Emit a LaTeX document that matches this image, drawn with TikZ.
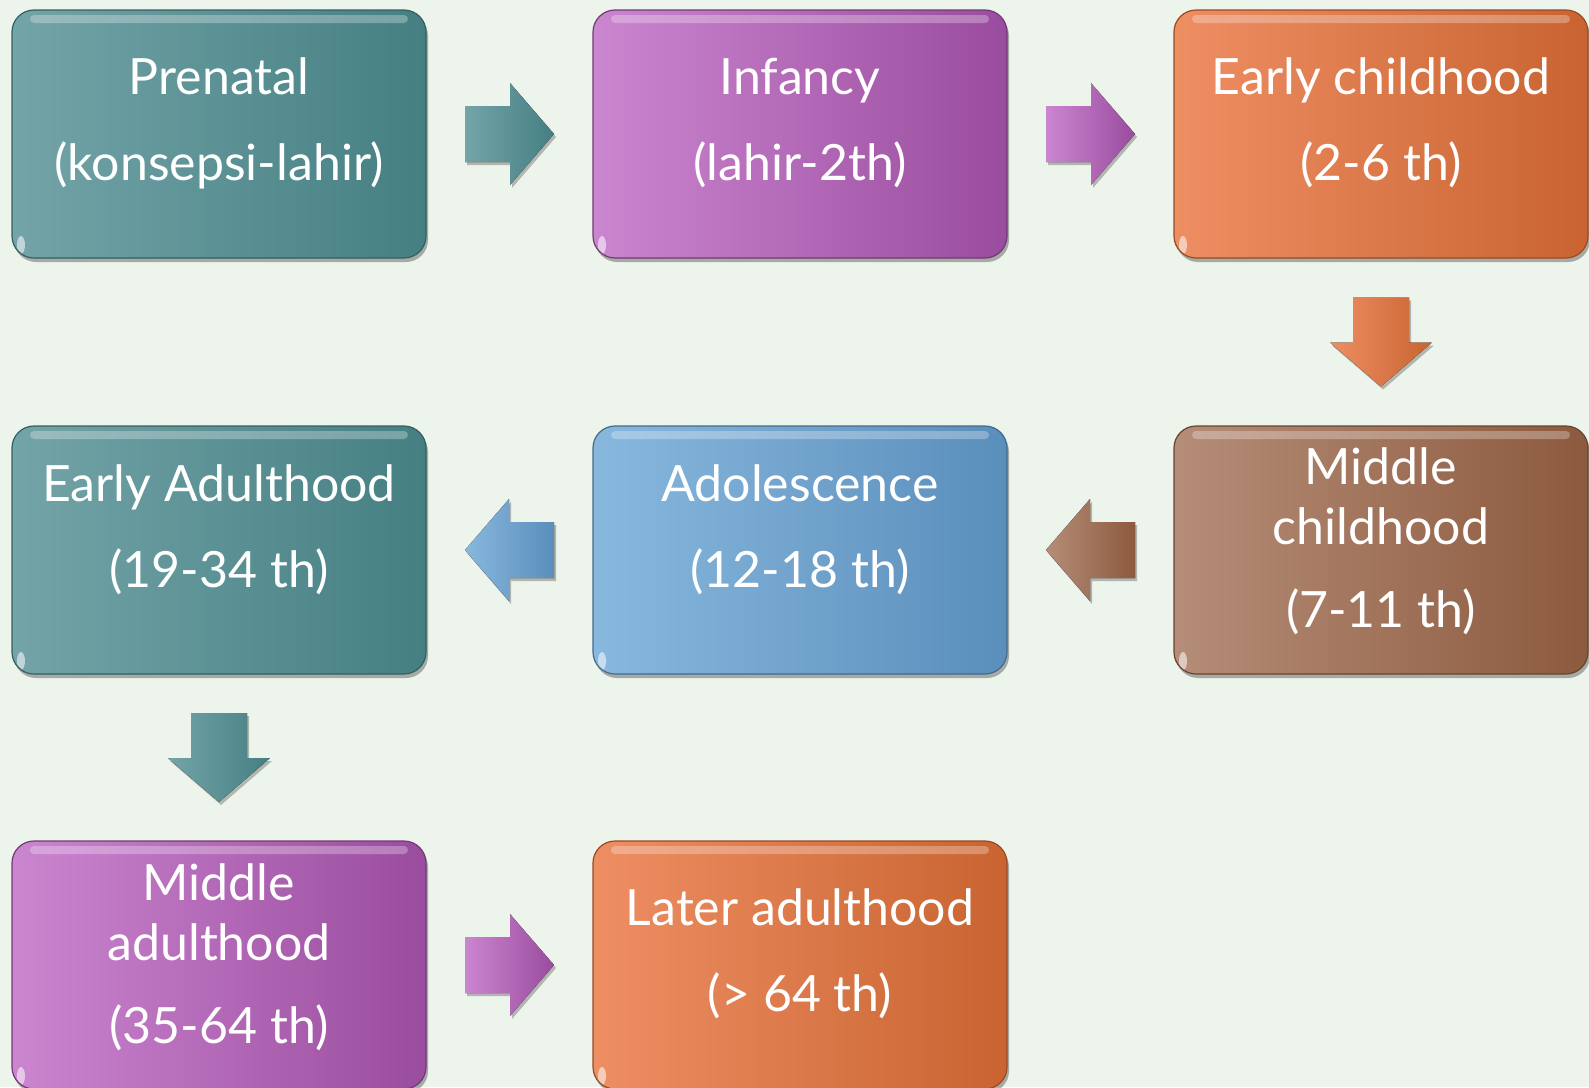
\documentclass[tikz,border=0pt]{standalone}
\usepackage{fontspec}
\setmainfont{Lato}
\usetikzlibrary{calc,shadows}
\definecolor{bg}{HTML}{EDF4EB}
\definecolor{tealL}{HTML}{73A4A8}
\definecolor{tealD}{HTML}{457F82}
\definecolor{purL}{HTML}{CB86D0}
\definecolor{purD}{HTML}{9A4C9E}
\definecolor{orgL}{HTML}{EE8E63}
\definecolor{orgD}{HTML}{C96431}
\definecolor{brnL}{HTML}{B58D78}
\definecolor{brnD}{HTML}{8C5A3E}
\definecolor{bluL}{HTML}{88B8DE}
\definecolor{bluD}{HTML}{5A8EBB}
\tikzset{
  stage/.style 2 args={rectangle, rounded corners=22pt, minimum width=414pt,
    minimum height=248pt, inner sep=0pt, left color=#1, right color=#2,
    draw=#2!75!black, line width=1.2pt, text=white, align=center,
    font=\fontsize{50}{60}\selectfont,
    drop shadow={shadow xshift=2pt, shadow yshift=-4pt, opacity=0.3, fill=black},
    path picture={
      \fill[white, opacity=0.28, rounded corners=4pt]
        ([xshift=18pt,yshift=-5pt]path picture bounding box.north west) rectangle
        ([xshift=-18pt,yshift=-13pt]path picture bounding box.north east);
      \fill[white, opacity=0.55]
        ([xshift=9pt,yshift=13pt]path picture bounding box.south west) ellipse (4pt and 9pt);
    }},
  arrowfill/.style 2 args={left color=#1, right color=#2,
    drop shadow={shadow xshift=2pt, shadow yshift=-3pt, opacity=0.25, fill=black}}
}
\newcommand{\blockarr}[4]{%
  \begin{scope}[shift={(#1)}, rotate=#2]
    \fill[arrowfill={#3}{#4}] (-44.5,-28) -- (0.5,-28) -- (0.5,-51) -- (44.5,0)
      -- (0.5,51) -- (0.5,28) -- (-44.5,28) -- cycle;
  \end{scope}}
\begin{document}
\begin{tikzpicture}[x=1pt, y=-1pt]
  \fill[bg] (0,0) rectangle (1589,1087);
  \useasboundingbox (0,0) rectangle (1589,1087);

  \node[stage={tealL}{tealD}, text depth=30pt] (pre) at (219,134) {Prenatal\\[26pt](konsepsi-lahir)};
  \node[stage={purL}{purD}, text depth=30pt]   (inf) at (800,134) {Infancy\\[26pt](lahir-2th)};
  \node[stage={orgL}{orgD}, text depth=30pt]   (ech) at (1381,134) {Early childhood\\[26pt](2-6 th)};
  \node[stage={brnL}{brnD}, text depth=24pt]   (mch) at (1381,550) {Middle\\childhood\\[23pt](7-11 th)};
  \node[stage={bluL}{bluD}, text depth=48pt]   (ado) at (800,550) {Adolescence\\[26pt](12-18 th)};
  \node[stage={tealL}{tealD}, text depth=48pt] (ead) at (219,550) {Early Adulthood\\[26pt](19-34 th)};
  \node[stage={purL}{purD}, text depth=22pt]   (mad) at (219,965) {Middle\\adulthood\\[23pt](35-64 th)};
  \node[stage={orgL}{orgD}, text depth=30pt]   (lad) at (800,965) {Later adulthood\\[26pt](> 64 th)};

  \coordinate (a1) at ($(pre.east)!0.5!(inf.west)$);
  \coordinate (a2) at ($(inf.east)!0.5!(ech.west)$);
  \coordinate (a3) at ($(ech.south)!0.5!(mch.north)$);
  \coordinate (a4) at ($(mch.west)!0.5!(ado.east)$);
  \coordinate (a5) at ($(ado.west)!0.5!(ead.east)$);
  \coordinate (a6) at ($(ead.south)!0.5!(mad.north)$);
  \coordinate (a7) at ($(mad.east)!0.5!(lad.west)$);

  \blockarr{a1}{0}{tealL}{tealD}
  \blockarr{a2}{0}{purL}{purD}
  \blockarr{a3}{-90}{orgL}{orgD}
  \blockarr{a4}{180}{brnL}{brnD}
  \blockarr{a5}{180}{bluL}{bluD}
  \blockarr{a6}{-90}{tealL}{tealD}
  \blockarr{a7}{0}{purL}{purD}
\end{tikzpicture}
\end{document}
